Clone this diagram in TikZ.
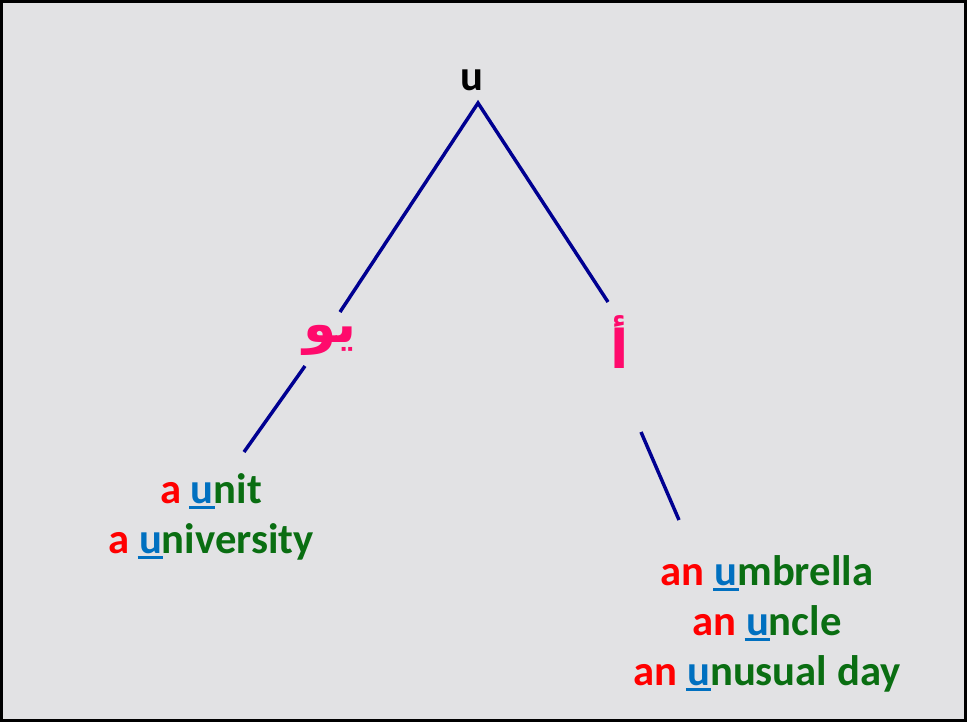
\documentclass[tikz,border=0pt]{standalone}
\usepackage{xcolor}
\usepackage{fontspec}
\usepackage{tikz}
\usetikzlibrary{positioning}
\setmainfont{Carlito}
\newfontfamily\arabicfont[Script=Arabic]{DejaVu Sans}
\TeXXeTstate=1
\definecolor{ArtRed}{HTML}{FF0000}
\definecolor{WordGreen}{HTML}{0A6E12}
\definecolor{VowelBlue}{HTML}{0070C0}
\definecolor{SoundPink}{HTML}{FF0A6C}
\definecolor{BranchNavy}{HTML}{000091}
\definecolor{MarbleGray}{HTML}{E2E2E4}
\newcommand{\uletter}[1]{\setbox0\hbox{#1}%
  \rlap{\hspace{-1pt}\color{VowelBlue}\rule[-4pt]{\dimexpr\wd0+2pt\relax}{2.3pt}}%
  {\color{VowelBlue}\box0}}
\newcommand{\art}[1]{{\color{ArtRed}#1}}
\tikzset{
  rootnode/.style={font=\fontsize{32}{36}\selectfont\bfseries,inner sep=1pt},
  soundnode/.style={font=\fontsize{40}{44}\selectfont\bfseries\arabicfont\color{SoundPink},inner sep=1pt},
  wordnode/.style={font=\fontsize{32}{37.5}\selectfont\bfseries\color{WordGreen},
    align=center,inner sep=1pt},
  branch/.style={line width=2.6pt,draw=BranchNavy},
}
\begin{document}
\begin{tikzpicture}[x=0.75pt,y=-0.75pt]
  \useasboundingbox (0,0) rectangle (967,722);
  \draw[fill=MarbleGray,line width=2.4pt] (1.6,1.6) rectangle (965.4,720.4);
  \node[rootnode] (u) at (472,80) {u};
  \node[soundnode] (yu) at (330,340) {\beginR يو\endR};
  \node[soundnode] (alef) at (620,342) {\beginR أ\endR};
  \node[wordnode] (wa) at (211,517) {\art{a} \uletter{u}nit\\\art{a} \uletter{u}niversity};
  \node[wordnode] (wan) at (767,624) {\art{an} \uletter{u}mbrella\\\art{an} \uletter{u}ncle\\\art{an} \uletter{u}nusual day};
  \coordinate (top) at (478,103);
  \coordinate (l1) at (340,312);
  \coordinate (l2) at (305,366);
  \coordinate (l3) at (244,452);
  \coordinate (r1) at (608,302);
  \coordinate (r2) at (641,432);
  \coordinate (r3) at (679,520);
  \draw[branch] (l1) -- (top) -- (r1);
  \draw[branch] (l2) -- (l3);
  \draw[branch] (r2) -- (r3);
\end{tikzpicture}
\end{document}
